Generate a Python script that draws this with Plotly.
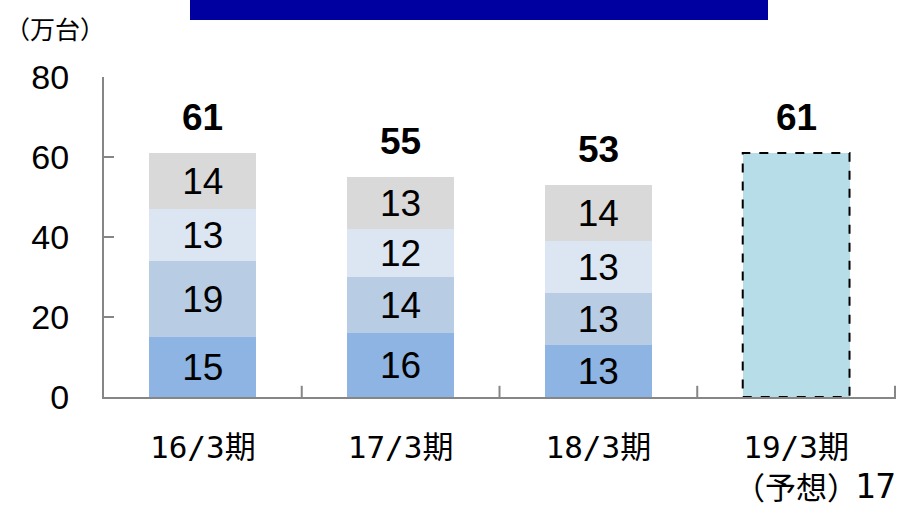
import plotly.graph_objects as go

categories = ["16/3期", "17/3期", "18/3期", "19/3期<br>（予想）"]
seg1 = [15, 16, 13, None]
seg2 = [19, 14, 13, None]
seg3 = [13, 12, 13, None]
seg4 = [14, 13, 14, None]
forecast = [None, None, None, 61]
totals = [61, 55, 53, 61]
seg_colors = ["#8DB4E2", "#B8CCE4", "#DCE6F2", "#D9D9D9"]
page_number = "17"

NUM_FONT = "Liberation Sans, Arial"
LBL_FONT = "DejaVu Sans Mono, Noto Sans CJK JP"

fig = go.Figure()
for vals, col in zip([seg1, seg2, seg3, seg4], seg_colors):
    fig.add_trace(go.Bar(
        x=categories, y=vals, marker=dict(color=col, line=dict(width=0)),
        text=[str(v) if v is not None else "" for v in vals],
        textposition="inside", insidetextanchor="middle",
        textfont=dict(family=NUM_FONT, size=37, color="black"),
        hoverinfo="skip", showlegend=False,
    ))
fig.add_trace(go.Bar(
    x=categories, y=forecast, marker=dict(color="#B7DDE8", line=dict(width=0)),
    showlegend=False, hoverinfo="skip",
))

for c, t in zip(categories, totals):
    fig.add_annotation(x=c, y=t, text=f"<b>{t}</b>", showarrow=False,
                       yshift=36, font=dict(family=NUM_FONT, size=37, color="black"))

# dashed outline for forecast bar
fig.add_shape(type="rect", xref="x", yref="y", x0=2.73, x1=3.27, y0=0, y1=forecast[3],
              line=dict(color="black", width=2, dash="dash"))

fig.update_layout(
    width=900, height=508, barmode="stack", bargap=0.46,
    margin=dict(l=104, r=4, t=77, b=111, autoexpand=False),
    plot_bgcolor="white", paper_bgcolor="white",
    xaxis=dict(showline=True, linecolor="#868686", linewidth=2,
               ticks="", ticklabelstandoff=22, automargin=False,
               tickfont=dict(family=LBL_FONT, size=31, color="black"),
               showgrid=False),
    yaxis=dict(range=[0, 80], dtick=20, showline=True, linecolor="#868686", linewidth=2,
               ticks="inside", ticklen=10, tickcolor="#868686", tickwidth=2,
               showgrid=False, zeroline=False, ticklabelstandoff=26, automargin=False,
               tickfont=dict(family=NUM_FONT, size=34, color="black")),
)
# category boundary ticks
for xb in [0.5, 1.5, 2.5, 3.5]:
    fig.add_shape(type="line", xref="x", yref="paper", x0=xb, x1=xb, y0=0, y1=0.035,
                  line=dict(color="#868686", width=2))

fig.add_annotation(xref="paper", yref="paper", x=-0.127, y=1.153, xanchor="left", yanchor="middle",
                   text="（万台）", showarrow=False,
                   font=dict(family="Noto Sans CJK JP", size=25, color="black"))
fig.add_shape(type="rect", xref="paper", yref="paper",
              x0=(190-104)/792, x1=(768-104)/792, y0=1.178, y1=1.26,
              fillcolor="#0000A0", line=dict(width=0))
fig.add_annotation(xref="paper", yref="paper", x=(897-104)/792, y=(397-486)/320,
                   xanchor="right", yanchor="middle",
                   text=page_number, showarrow=False, borderpad=0,
                   font=dict(family=LBL_FONT, size=34, color="black"))

fig.write_html("out.html", config={"displayModeBar": False},
               post_script="document.body.style.margin='0';document.body.style.overflow='hidden';")
